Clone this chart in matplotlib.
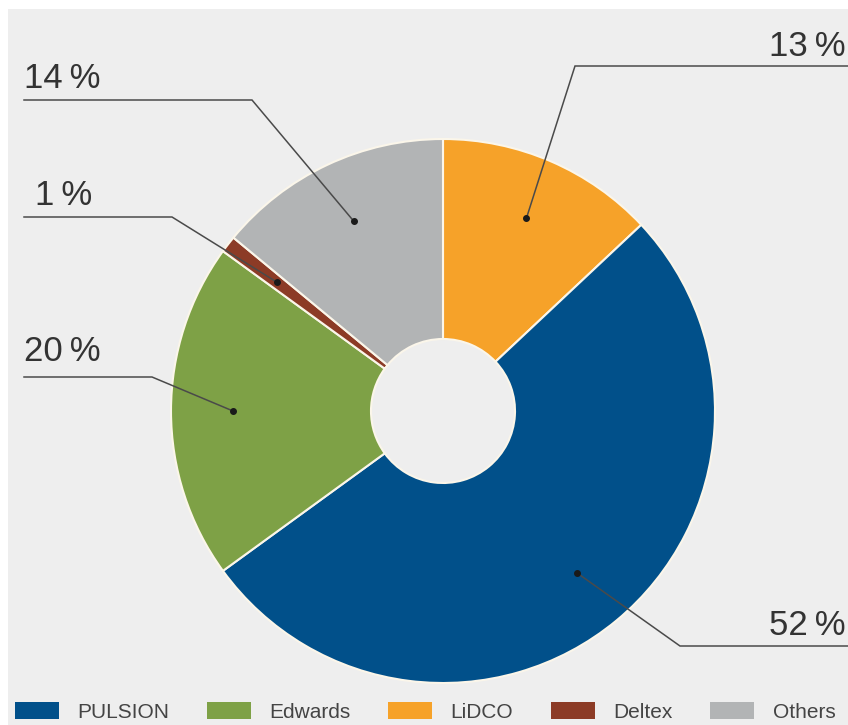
import numpy as np
import matplotlib
matplotlib.use('Agg')
import matplotlib.pyplot as plt
from matplotlib.patches import Rectangle

# data, clockwise from 12 o'clock
brands = ['LiDCO', 'PULSION', 'Edwards', 'Deltex', 'Others']
shares = [13, 52, 20, 1, 14]
colors = ['#f6a229', '#01508a', '#7ea146', '#8c3b26', '#b2b4b5']
legend_order = ['PULSION', 'Edwards', 'LiDCO', 'Deltex', 'Others']

W, H = 848, 725
plt.rcParams['font.family'] = ['Liberation Sans', 'DejaVu Sans']

fig = plt.figure(figsize=(W / 100, H / 100), dpi=100, facecolor='white')
ax = fig.add_axes([0, 0, 1, 1])

# light grey panel (small white margin on top and left)
ax.add_patch(Rectangle((8, 0), W - 8, H - 9, facecolor='#eeeeee',
                       edgecolor='none', zorder=0))

cx, cy = 443, H - 411
R, hole = 272, 72
wedges, _ = ax.pie(shares, colors=colors, startangle=90, counterclock=False,
                   center=(cx, cy), radius=R,
                   wedgeprops=dict(width=R - hole, edgecolor='#fbf6ea',
                                   linewidth=1.5),
                   frame=True)

# leader lines: elbow, line end, text anchor x, alignment, text baseline
leaders = {
    'LiDCO':   ((575, 66), 848, 846, 'right', 56),
    'Others':  ((252, 100), 24, 24, 'left', 88),
    'Deltex':  ((172, 217), 24, 35, 'left', 205),
    'Edwards': ((152, 377), 24, 24, 'left', 361),
    'PULSION': ((680, 646), 848, 846, 'right', 635),
}
for w, name, val in zip(wedges, brands, shares):
    mid = np.deg2rad((w.theta1 + w.theta2) / 2)
    dx, dy = cx + 210 * np.cos(mid), cy + 210 * np.sin(mid)
    (ex, ey), end, tx, ha, ty = leaders[name]
    ax.plot([dx, ex, end], [dy, H - ey, H - ey], color='#4a4a4a', lw=1.1,
            zorder=3, solid_joinstyle='miter')
    ax.plot(dx, dy, 'o', color='#1a1a1a', ms=4, zorder=4)
    ax.text(tx, H - ty, f'{val}\u2009%', fontsize=25, color='#333333',
            va='baseline', ha=ha, zorder=4)

handles = [wedges[brands.index(n)] for n in legend_order]
leg = ax.legend(handles, legend_order, ncol=5, frameon=False,
                loc='center left', bbox_to_anchor=(15 / W, (H - 712) / H),
                fontsize=15, handlelength=2.1, handleheight=0.9,
                handletextpad=0.9, columnspacing=1.8, borderpad=0,
                borderaxespad=0)
for t in leg.get_texts():
    t.set_color('#444444')
for p in leg.get_patches():
    p.set_edgecolor('none')

ax.set_xlim(0, W)
ax.set_ylim(0, H)
ax.set_axis_off()

plt.savefig('out.png', dpi=100, facecolor='white')
